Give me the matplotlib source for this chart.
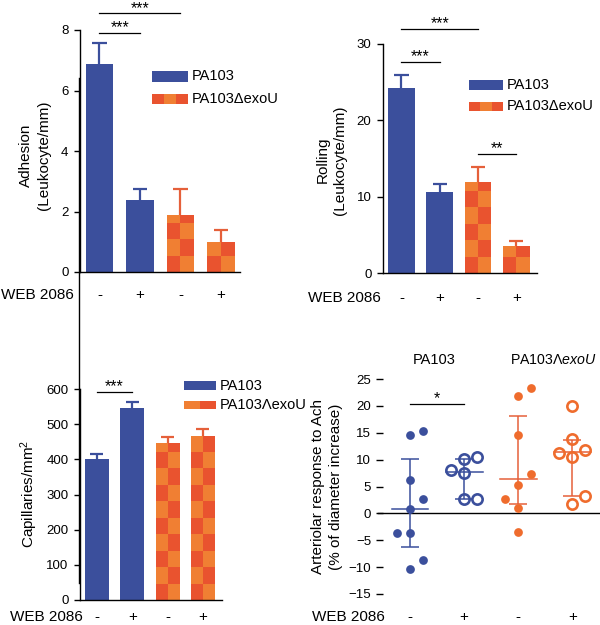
import numpy as np
import matplotlib
matplotlib.use("Agg")
import matplotlib.pyplot as plt
from matplotlib.patches import Rectangle
from matplotlib.lines import Line2D

plt.rcParams['font.family'] = ['Liberation Sans', 'DejaVu Sans']
plt.rcParams['mathtext.fontset'] = 'custom'
plt.rcParams['mathtext.rm'] = 'Liberation Sans'
plt.rcParams['mathtext.it'] = 'Liberation Sans:italic'

# ---------------- data ----------------
web_signs = ['-', '+', '-', '+']
strains = ['PA103', 'PA103', 'PA103ΔexoU', 'PA103ΔexoU']

adhesion_mean = [6.87, 2.38, 1.88, 0.99]
adhesion_err = [0.71, 0.38, 0.88, 0.40]

rolling_mean = [24.2, 10.6, 11.9, 3.6]
rolling_err = [1.7, 1.1, 2.0, 0.6]

capill_mean = [400, 545, 446, 466]
capill_err = [14, 19, 18, 19]

# arteriolar response (individual animals) and swarm slots
art_pa_minus = [14.5, 15.3, 6.2, 2.6, 0.9, -3.6, -3.7, -8.7, -10.4]
art_pa_minus_slot = [0, 1, 0, 1, 0, -1, 0, 1, 0]
art_pa_plus = [8.1, 10.2, 10.4, 7.6, 2.6, 2.7]
art_pa_plus_slot = [-1, 0, 1, 0, 0, 1]
art_dx_minus = [21.9, 23.4, 14.6, 7.4, 5.3, 2.6, 1.0, -3.5]
art_dx_minus_slot = [0, 1, 0, 1, 0, -1, 0, 0]
art_dx_plus = [19.9, 13.8, 11.3, 11.8, 10.5, 3.3, 1.7]
art_dx_plus_slot = [0, 0, -1, 1, 0, 1, 0]
art_center = [0.9, 7.75, 6.4, 11.4]
art_lower = [-6.3, 2.6, 1.7, 3.2]
art_upper = [10.2, 10.2, 18.2, 13.7]

# significance: (bar i, bar j, y, label)
sig_adh = [(0, 1, 7.9, '***'), (0, 2, 8.55, '***')]
sig_rol = [(0, 1, 27.65, '***'), (0, 2, 32.0, '***'), (2, 3, 15.6, '**')]
sig_cap = [(0, 1, 591, '***')]
sig_art = [(0, 1, 20.35, '*')]

# ---------------- style ----------------
BLUE = '#3B4F9C'
LIGHT = '#F07F33'
DARK = '#E9532F'
OERR = '#E5603A'
OPT = '#EF6C2D'

W, H = 600, 625
fig = plt.figure(figsize=(6, 6.25), dpi=100)


def fx(px):
    return px / W


def fy(py):
    return 1 - py / H


def add_ax(l, t, r, b):
    return fig.add_axes([fx(l), fy(b), (r - l) / W, (b - t) / H])


def style_bar_ax(ax):
    for s in ['top', 'right']:
        ax.spines[s].set_visible(False)
    for s in ['left', 'bottom']:
        ax.spines[s].set_linewidth(1.0)
    ax.tick_params(axis='y', length=4.3, width=1.0, labelsize=9.5, pad=4)
    ax.tick_params(axis='x', length=0, labelbottom=False)


def checker(ax, rects, cell_px=16.5):
    ylo, yhi = ax.get_ylim()
    ax_h_px = ax.get_position().height * H
    ch = cell_px * (yhi - ylo) / ax_h_px
    for rect in rects:
        x0, w, h = rect.get_x(), rect.get_width(), rect.get_height()
        nrows = int(np.ceil(h / ch))
        for r in range(nrows):
            y0 = r * ch
            y1 = min(h, (r + 1) * ch)
            for c in range(2):
                col = DARK if (r + c) % 2 == 0 else LIGHT
                ax.add_patch(Rectangle((x0 + c * w / 2, y0), w / 2, y1 - y0,
                                       facecolor=col, edgecolor='none',
                                       zorder=rect.get_zorder() + 0.1))


def bar_panel(ax, means, errs, ylim, yticks, xlim, width, cap_frac=0.27):
    x = np.arange(len(means))
    ax.set_xlim(*xlim)
    ax.set_ylim(*ylim)
    ax.set_yticks(yticks)
    cols = [BLUE if s == 'PA103' else LIGHT for s in strains]
    ecols = [BLUE if s == 'PA103' else OERR for s in strains]
    tops = np.array(means) + np.array(errs)
    ax.vlines(x, means, tops, colors=ecols, lw=1.6, zorder=1)
    ax.hlines(tops, x - width * cap_frac, x + width * cap_frac, colors=ecols,
              lw=1.6, zorder=1)
    bars = ax.bar(x, means, width=width, color=cols, edgecolor='none', zorder=2)
    checker(ax, [b for b, s in zip(bars, strains) if s != 'PA103'])
    style_bar_ax(ax)
    return x


def sig(ax, items, fs=11.5):
    for i, j, y, lab in items:
        ax.plot([i, j], [y, y], color='black', lw=0.9, clip_on=False)
        ax.annotate(lab, xy=((i + j) / 2, y), xytext=(0, 0.5),
                    textcoords='offset points', ha='center', va='baseline',
                    fontsize=fs, annotation_clip=False)


def signs(ax, xs, ypx, axtop_px, axbot_px, fs=11):
    frac = (axbot_px - ypx) / (axbot_px - axtop_px)
    for xi, s in zip(xs, web_signs):
        ax.text(xi, frac, s, transform=ax.get_xaxis_transform(),
                ha='center', va='center', fontsize=fs, clip_on=False)


def legend(entries, x0, x1, fs=10.5):
    for cells, label, t, b in entries:
        n = len(cells)
        cw = (x1 - x0) / n
        for k, c in enumerate(cells):
            fig.add_artist(Rectangle((fx(x0 + k * cw), fy(b)), cw / W, (b - t) / H,
                                     transform=fig.transFigure, facecolor=c,
                                     edgecolor='none'))
        fig.text(fx(x1 + 4), fy((t + b) / 2), label, ha='left',
                 va='center', fontsize=fs)


# ---------------- panel A: adhesion ----------------
axA = add_ax(80, 30, 240, 272)
xA = bar_panel(axA, adhesion_mean, adhesion_err, (0, 8), [0, 2, 4, 6, 8],
               (-0.48, 3.47), 0.67)
sig(axA, sig_adh)
signs(axA, xA, 295, 30, 272)
fig.text(fx(1), fy(295), 'WEB 2086', ha='left', va='center', fontsize=11)
fig.text(fx(35), fy(155), 'Adhesion\n(Leukocyte/mm)', rotation=90,
         ha='center', va='center', fontsize=11, linespacing=1.3)
legend([([BLUE], 'PA103', 71, 82),
        ([DARK, LIGHT, DARK], 'PA103ΔexoU', 94, 104)], 152, 188)

# ---------------- panel B: rolling ----------------
axB = add_ax(383, 44, 537, 273)
xB = bar_panel(axB, rolling_mean, rolling_err, (0, 30), [0, 10, 20, 30],
               (-0.48, 3.54), 0.69)
sig(axB, sig_rol)
signs(axB, xB, 298, 44, 273)
fig.text(fx(308), fy(298), 'WEB 2086', ha='left', va='center', fontsize=11)
fig.text(fx(331), fy(160), 'Rolling\n(Leukocyte/mm)', rotation=90,
         ha='center', va='center', fontsize=11, linespacing=1.3)
legend([([BLUE], 'PA103', 80, 90),
        ([DARK, LIGHT, DARK], 'PA103ΔexoU', 102, 111)], 469, 503)

# ---------------- panel C: capillaries ----------------
axC = add_ax(80, 389, 222, 600)
xC = bar_panel(axC, capill_mean, capill_err, (0, 600),
               [0, 100, 200, 300, 400, 500, 600], (-0.48, 3.54), 0.68)
sig(axC, sig_cap)
signs(axC, xC, 617, 389, 600)
fig.text(fx(10), fy(617), 'WEB 2086', ha='left', va='center', fontsize=11)
fig.text(fx(29), fy(494), 'Capillaries/mm$^2$', rotation=90,
         ha='center', va='center', fontsize=11)
legend([([BLUE], 'PA103', 381, 390),
        ([LIGHT, DARK], 'PA103ΛexoU', 401, 409)], 184, 216)

# stray vertical rule of the composite figure
fig.add_artist(Line2D([fx(78.5), fx(78.5)], [fy(78), fy(583)],
                      transform=fig.transFigure, color='black', lw=1.0))

# ---------------- panel D: arteriolar response ----------------
axD = add_ax(383, 379, 600, 594)
axD.set_xlim(-0.5, 3.51)
axD.set_ylim(-15, 25)
axD.set_yticks([-15, -10, -5, 0, 5, 10, 15, 20, 25])
for s in ['top', 'right', 'left', 'bottom']:
    axD.spines[s].set_visible(False)
axD.tick_params(axis='y', length=5, width=1.0, labelsize=9.5, pad=3.6)
axD.tick_params(axis='x', length=0, labelbottom=False)
axD.axhline(0, xmin=-5 / 217, xmax=1, color='black', lw=1.0, clip_on=False)

step = 0.24
groups = [(art_pa_minus, art_pa_minus_slot, BLUE, True),
          (art_pa_plus, art_pa_plus_slot, BLUE, False),
          (art_dx_minus, art_dx_minus_slot, OPT, True),
          (art_dx_plus, art_dx_plus_slot, OPT, False)]
for gi, (vals, slots, col, filled) in enumerate(groups):
    ecol = BLUE if gi < 2 else OERR
    axD.errorbar([gi], [art_center[gi]],
                 yerr=[[art_center[gi] - art_lower[gi]], [art_upper[gi] - art_center[gi]]],
                 fmt='none', ecolor=ecol, elinewidth=1.1, capsize=6.7,
                 capthick=1.1, zorder=2)
    axD.plot([gi - 0.34, gi + 0.34], [art_center[gi]] * 2, color=ecol,
             lw=1.1, zorder=2)
    xs = gi + step * np.array(slots)
    if filled:
        axD.plot(xs, vals, 'o', color=col, ms=6.3, mec='none', zorder=3)
    else:
        axD.plot(xs, vals, 'o', mfc='none', mec=col, mew=1.9, ms=7.4, zorder=3)

sig(axD, sig_art)
signs(axD, np.arange(4), 617, 379, 594)
fig.text(fx(312), fy(617), 'WEB 2086', ha='left', va='center', fontsize=11)
fig.text(fx(327), fy(487), 'Arteriolar response to Ach\n(% of diameter increase)',
         rotation=90, ha='center', va='center', fontsize=11, linespacing=1.3)
fig.text(fx(434), fy(360), 'PA103', ha='center', va='center', fontsize=10.5)
fig.text(fx(553), fy(360), r'PA103$\Lambda\mathit{exoU}$', ha='center',
         va='center', fontsize=10.2)

fig.savefig('out.png', dpi=100)
